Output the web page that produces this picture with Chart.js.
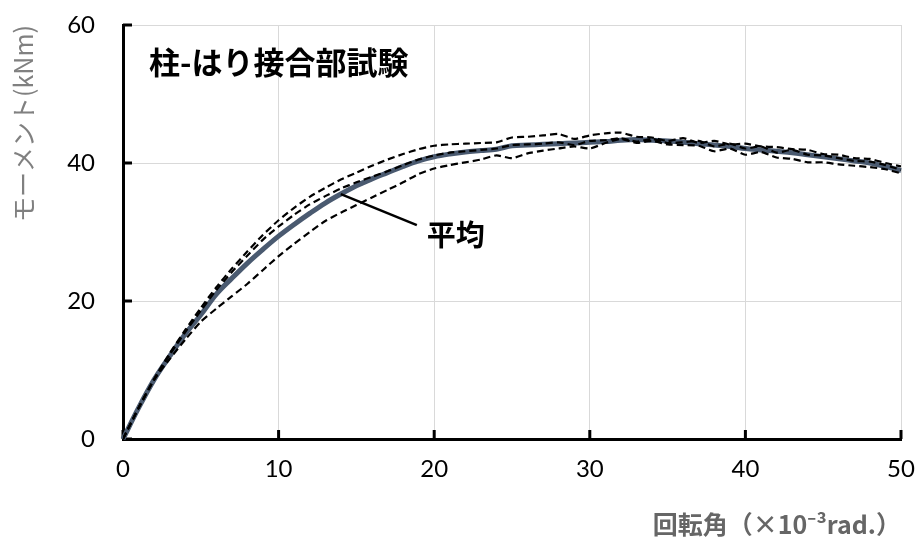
<!DOCTYPE html>
<html lang="ja">
<head>
<meta charset="utf-8">
<title>柱-はり接合部試験</title>
<script src="https://cdn.jsdelivr.net/npm/chart.js@4.4.0/dist/chart.umd.min.js"></script>
<style>
  html, body { margin: 0; padding: 0; background: #ffffff; }
  #wrap { width: 921px; height: 539px; }
</style>
</head>
<body>
<div id="wrap"><canvas id="chart" width="921" height="539"></canvas></div>
<script>
// Rotation angle (x 10^-3 rad.)
const rotation = [
  0, 1, 2, 3, 4, 5, 6, 7, 8, 9,
  10, 11, 12, 13, 14, 15, 16, 17, 18, 19,
  20, 21, 22, 23, 24, 25, 26, 27, 28, 29,
  30, 31, 32, 33, 34, 35, 36, 37, 38, 39,
  40, 41, 42, 43, 44, 45, 46, 47, 48, 49, 50
];

// Moment (kNm) of each specimen
const specimenA = [
  0, 4.5, 8.7, 12.4, 15.8, 19.0, 22.0, 24.7, 27.2, 29.6,
  31.7, 33.5, 35.1, 36.4, 37.6, 38.6, 39.6, 40.5, 41.3, 42.0,
  42.5, 42.7, 42.8, 42.9, 43.0, 43.7, 43.8, 44.0, 44.2, 43.5,
  44.0, 44.3, 44.4, 43.8, 43.7, 43.2, 43.6, 42.9, 43.2, 42.7,
  42.8, 42.4, 42.3, 42.0, 41.9, 41.3, 41.2, 40.7, 40.6, 40.0, 39.5
];
const specimenB = [
  0, 4.5, 8.6, 12.2, 15.5, 18.6, 21.6, 24.2, 26.6, 28.9,
  30.8, 32.5, 34.0, 35.2, 36.3, 37.2, 38.0, 38.8, 39.7, 40.5,
  41.1, 41.5, 41.7, 41.9, 42.1, 42.6, 42.7, 42.8, 43.0, 42.6,
  43.2, 43.3, 43.6, 43.1, 43.5, 42.9, 43.0, 43.2, 42.4, 42.8,
  42.1, 42.4, 41.5, 41.9, 41.2, 41.1, 40.7, 40.3, 40.2, 39.7, 39.0
];
const specimenC = [
  0, 4.5, 8.6, 11.6, 14.4, 17.0, 18.9, 20.7, 22.5, 24.5,
  26.5, 28.3, 30.0, 31.6, 32.8, 33.9, 35.0, 36.1, 37.2, 38.4,
  39.2, 39.7, 40.1, 40.5, 41.1, 40.7, 41.4, 41.8, 42.1, 42.4,
  42.1, 42.9, 43.5, 42.9, 43.2, 42.7, 42.6, 42.5, 41.7, 42.1,
  41.2, 41.6, 40.8, 40.6, 40.1, 40.1, 39.8, 39.6, 39.4, 39.1, 38.5
];
// Average of the specimens
const average = [
  0, 4.5, 8.6, 12.0, 15.2, 18.0, 21.0, 23.3, 25.5, 27.5,
  29.4, 31.1, 32.7, 34.2, 35.5, 36.7, 37.7, 38.6, 39.5, 40.3,
  40.9, 41.3, 41.6, 41.8, 42.0, 42.5, 42.6, 42.7, 42.8, 42.9,
  43.0, 43.1, 43.3, 43.4, 43.3, 43.2, 43.0, 42.8, 42.6, 42.4,
  42.1, 41.9, 41.7, 41.5, 41.2, 40.9, 40.6, 40.3, 40.0, 39.5, 38.9
];

// Axis ticks
const xTicks = [0, 10, 20, 30, 40, 50];
const yTicks = [0, 20, 40, 60];

const chartTitle = '柱-はり接合部試験';
const averageLabel = '平均';
const averageLabelAt = 14; // rotation where the leader line touches the average curve

const jpFont = "'Noto Sans CJK JP', 'Noto Sans', sans-serif";
const numFont = "'Liberation Sans Narrow', 'Lato', 'Noto Sans', sans-serif";

const toPoints = (vals) => rotation.map((r, i) => ({ x: r, y: vals[i] }));

const dashedStyle = {
  borderColor: '#000000',
  borderWidth: 2.2,
  borderDash: [7, 4],
  pointRadius: 0,
  tension: 0.2,
  fill: false,
  order: 1
};

// Inward tick marks, chart caption and the leader to the average curve
const decorations = {
  id: 'decorations',
  beforeDatasetsDraw(chart) {
    const { ctx, chartArea, scales } = chart;
    ctx.save();
    ctx.strokeStyle = '#000000';
    ctx.lineWidth = 3;
    ctx.beginPath();
    yTicks.forEach(v => {
      const py = scales.y.getPixelForValue(v);
      ctx.moveTo(chartArea.left, py);
      ctx.lineTo(chartArea.left + 9, py);
    });
    xTicks.forEach(v => {
      const px = scales.x.getPixelForValue(v);
      ctx.moveTo(px, chartArea.bottom);
      ctx.lineTo(px, chartArea.bottom - 9);
    });
    ctx.stroke();
    ctx.restore();
  },
  afterDraw(chart) {
    const { ctx, scales } = chart;
    ctx.save();
    ctx.fillStyle = '#000000';
    ctx.textBaseline = 'middle';
    ctx.textAlign = 'left';
    ctx.font = `bold 31px ${jpFont}`;
    ctx.fillText(chartTitle, 149, 62);

    const ax = scales.x.getPixelForValue(rotation[averageLabelAt]);
    const ay = scales.y.getPixelForValue(average[averageLabelAt]);
    ctx.strokeStyle = '#000000';
    ctx.lineWidth = 2.5;
    ctx.beginPath();
    ctx.moveTo(ax, ay);
    ctx.lineTo(ax + 76, ay + 31);
    ctx.stroke();

    ctx.font = `bold 29px ${jpFont}`;
    ctx.fillText(averageLabel, ax + 86, ay + 41);
    ctx.restore();
  }
};

new Chart(document.getElementById('chart'), {
  type: 'line',
  data: {
    datasets: [
      Object.assign({ label: 'A', data: toPoints(specimenA) }, dashedStyle),
      Object.assign({ label: 'B', data: toPoints(specimenB) }, dashedStyle),
      Object.assign({ label: 'C', data: toPoints(specimenC) }, dashedStyle),
      {
        label: averageLabel,
        data: toPoints(average),
        borderColor: '#4a5a70',
        borderWidth: 5,
        pointRadius: 0,
        tension: 0.35,
        fill: false,
        clip: false,
        order: 2
      }
    ]
  },
  options: {
    responsive: false,
    animation: false,
    layout: { padding: { left: 0, right: 20, top: 25, bottom: 0 } },
    plugins: {
      legend: { display: false },
      tooltip: { enabled: false }
    },
    scales: {
      x: {
        type: 'linear',
        min: 0,
        max: 50,
        ticks: {
          stepSize: 10,
          color: '#000000',
          padding: 16,
          maxRotation: 0,
          font: { family: numFont, size: 24 }
        },
        grid: { color: '#d9d9d9', lineWidth: 1, drawTicks: false },
        border: { display: true, color: '#000000', width: 3 },
        title: {
          display: true,
          text: '回転角（×10⁻³rad.）',
          align: 'end',
          color: '#666666',
          padding: { top: 0, bottom: 0 },
          font: { family: jpFont, size: 25, weight: 'bold' }
        },
        afterFit(scale) {
          scale.height = 100;
          scale.paddingLeft = 0;
          scale.paddingRight = 0;
        }
      },
      y: {
        type: 'linear',
        min: 0,
        max: 60,
        ticks: {
          stepSize: 20,
          color: '#000000',
          padding: 28,
          font: { family: numFont, size: 24 }
        },
        grid: { color: '#d9d9d9', lineWidth: 1, drawTicks: false },
        border: { display: true, color: '#000000', width: 3 },
        title: {
          display: true,
          text: 'モーメント(kNm)',
          align: 'end',
          color: '#808080',
          padding: { top: 8, bottom: 0 },
          font: { family: jpFont, size: 25 }
        },
        afterFit(scale) {
          scale.width = 123;
          scale.paddingTop = 0;
          scale.paddingBottom = 0;
        }
      }
    }
  },
  plugins: [decorations]
});
</script>
</body>
</html>
